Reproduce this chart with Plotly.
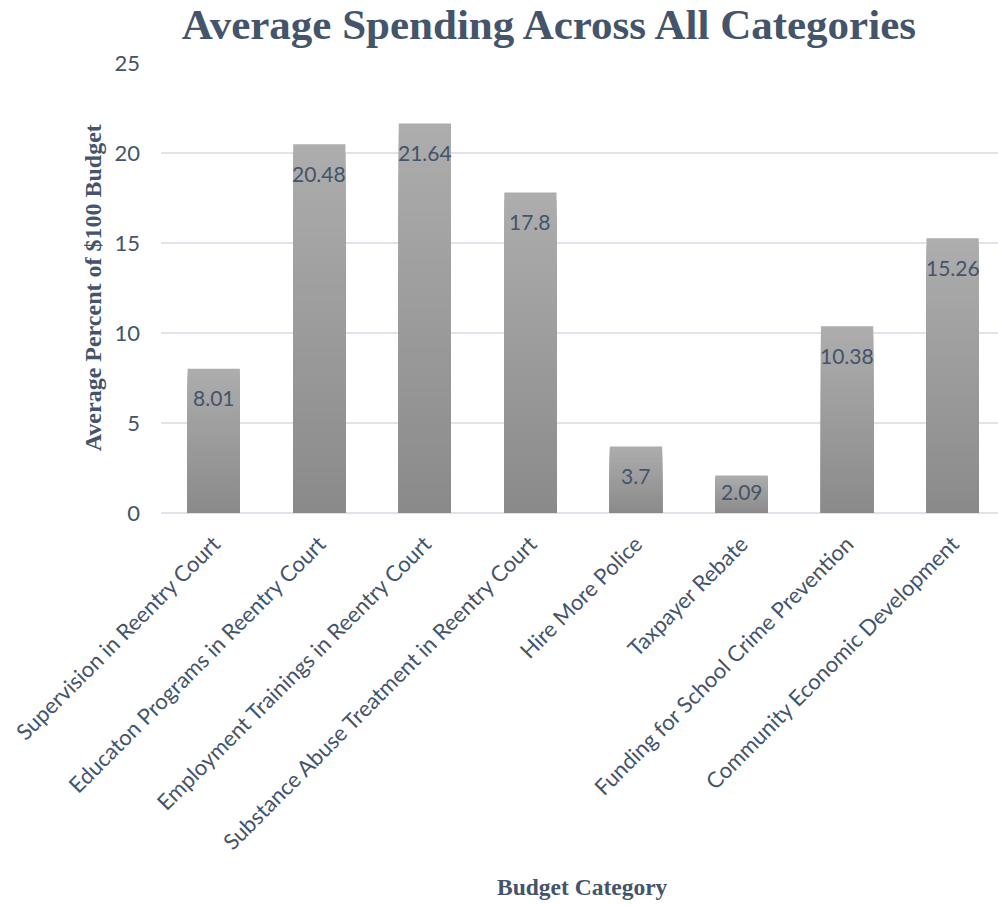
import plotly.graph_objects as go

categories = [
    "Supervision in Reentry Court",
    "Educaton Programs in Reentry Court",
    "Employment Trainings in Reentry Court",
    "Substance Abuse Treatment in Reentry Court",
    "Hire More Police",
    "Taxpayer Rebate",
    "Funding for School Crime Prevention",
    "Community Economic Development",
]
values = [8.01, 20.48, 21.64, 17.8, 3.7, 2.09, 10.38, 15.26]
labels = ["8.01", "20.48", "21.64", "17.8", "3.7", "2.09", "10.38", "15.26"]
y_ticks = [0, 5, 10, 15, 20, 25]

TEXT = "#44546a"
SERIF = "Liberation Serif, Times New Roman, serif"
SANS = "Lato, Open Sans, sans-serif"

fig = go.Figure()

# gradient fill: overlaid bars of decreasing height, darker toward the base
N = 40
top_g, bot_g = 173, 138
for k in range(N):
    frac = (N - k) / N
    mid = (N - k - 0.5) / N
    g = int(round(bot_g + (top_g - bot_g) * mid))
    fig.add_trace(go.Bar(
        x=categories,
        y=[v * frac for v in values],
        marker=dict(color=f"rgb({g},{g},{g})", line=dict(width=0)),
        width=0.495,
        hoverinfo="skip" if k else "x+y",
        showlegend=False,
    ))

# data labels inside the bar ends
px_per_unit = 450 / 25
for c, v, t in zip(categories, values, labels):
    shift = -min(29, v * px_per_unit - 22)
    fig.add_annotation(x=c, y=v, text=t, showarrow=False, yshift=shift,
                       yanchor="middle", font=dict(family=SANS, size=21, color=TEXT))

fig.add_annotation(xref="paper", yref="paper", x=0.504, y=-0.831, text="<b>Budget Category</b>",
                   showarrow=False, xanchor="center", yanchor="middle",
                   font=dict(family=SERIF, size=23.5, color=TEXT))
fig.add_annotation(xref="paper", yref="paper", x=-0.081, y=0.5, text="<b>Average Percent of $100 Budget</b>",
                   showarrow=False, textangle=-90, xanchor="center", yanchor="middle",
                   font=dict(family=SERIF, size=24, color=TEXT))

fig.update_layout(
    width=998, height=905,
    margin=dict(l=161, r=0, t=63, b=392),
    paper_bgcolor="white", plot_bgcolor="white",
    barmode="overlay",
    title=dict(text="<b>Average Spending Across All Categories</b>", x=0.55, xanchor="center",
               y=0.974, yanchor="middle", font=dict(family=SERIF, size=43, color=TEXT)),
    xaxis=dict(range=[-0.5, 7.43], tickangle=-45, tickfont=dict(family=SANS, size=22, color=TEXT),
               showgrid=False, showline=False, ticks="", ticklabelstandoff=13, automargin=False),
    yaxis=dict(range=[0, 25], tickvals=y_ticks, tickfont=dict(family=SANS, size=22, color=TEXT),
               gridcolor="#dfe3ea", gridwidth=2, zeroline=True, zerolinecolor="#dfe3ea", zerolinewidth=2,
               ticks="", ticklabelstandoff=20, automargin=False),
)

fig.write_html("out.html")
